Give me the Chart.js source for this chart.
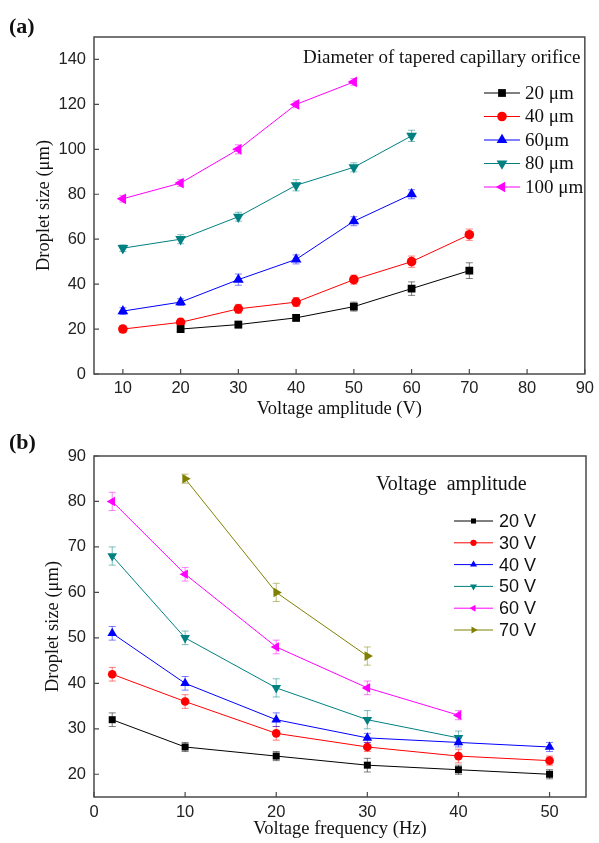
<!DOCTYPE html>
<html>
<head>
<meta charset="utf-8">
<script src="https://cdn.jsdelivr.net/npm/chart.js@4.4.0/dist/chart.umd.min.js"></script>
<style>
  body { margin: 0; background: #fff; width: 599px; height: 843px; position: relative; overflow: hidden; }
  .panel { position: absolute; left: 0; width: 599px; }
  #wrapA { top: 0; height: 420px; }
  #wrapB { top: 420px; height: 423px; }
  .tag { position: absolute; left: 9px; font: bold 22px "Liberation Serif", serif; color: #111; }
</style>
</head>
<body>
<div class="panel" id="wrapA"><canvas id="chartA" width="599" height="420"></canvas></div>
<div class="panel" id="wrapB"><canvas id="chartB" width="599" height="423"></canvas></div>
<div class="tag" style="top:13px">(a)</div>
<div class="tag" style="top:429px">(b)</div>
<script>
// ---- panel (a): droplet size vs voltage amplitude
const ampX = [10, 20, 30, 40, 50, 60, 70];
const ampNames = ["20 μm", "40 μm", "60μm", "80 μm", "100 μm"];
const sizeA20 = [null, 20, 22, 25, 30, 38, 46];
const sizeA40 = [20, 23, 29, 32, 42, 50, 62];
const sizeA60 = [28, 32, 42, 51, 68, 80, null];
const sizeA80 = [56, 60, 70, 84, 92, 106, null];
const sizeA100 = [78, 85, 100, 120, 130, null, null];
const errA20 = [0, 1.5, 1.5, 1.5, 2, 3, 3.5];
const errA40 = [1.5, 1.5, 2, 2, 2, 2.5, 2.5];
const errA60 = [1.5, 1.5, 2.5, 2, 2, 2, 0];
const errA80 = [1.5, 2, 2, 2.5, 2, 2.5, 0];
const errA100 = [1.5, 1.5, 2, 1.5, 1.5, 0, 0];
const xTicksA = [10, 20, 30, 40, 50, 60, 70, 80, 90];
const yTicksA = [0, 20, 40, 60, 80, 100, 120, 140];

// ---- panel (b): droplet size vs voltage frequency
const freqX = [2, 10, 20, 30, 40, 50];
const freqNames = ["20 V", "30 V", "40 V", "50 V", "60 V", "70 V"];
const sizeB20 = [32, 26, 24, 22, 21, 20];
const sizeB30 = [42, 36, 29, 26, 24, 23];
const sizeB40 = [51, 40, 32, 28, 27, 26];
const sizeB50 = [68, 50, 39, 32, 28, null];
const sizeB60 = [80, 64, 48, 39, 33, null];
const sizeB70 = [null, 85, 60, 46, null, null];
const errB20 = [1.5, 1, 1, 1.5, 1, 1];
const errB30 = [1.5, 1.5, 1.5, 1, 1.5, 1];
const errB40 = [1.5, 1.5, 1.5, 1, 1, 1];
const errB50 = [2, 1.5, 2, 2, 1.5, 0];
const errB60 = [2, 1.5, 1.5, 1.5, 1, 0];
const errB70 = [0, 1, 2, 2, 0, 0];
const xTicksB = [0, 10, 20, 30, 40, 50];
const yTicksB = [20, 30, 40, 50, 60, 70, 80, 90];

const colors = ["#000000", "#ff0000", "#0000ff", "#008080", "#ff00ff", "#808000"];
const styles = [
  { pointStyle: "rect", rotation: 0, radius: 5.5 },
  { pointStyle: "circle", rotation: 0, radius: 4.8 },
  { pointStyle: "triangle", rotation: 0, radius: 6.2 },
  { pointStyle: "triangle", rotation: 180, radius: 6.2 },
  { pointStyle: "triangle", rotation: -90, radius: 6.2 },
  { pointStyle: "triangle", rotation: 90, radius: 6.2 },
];

function makeSet(i, label, xs, ys, errs, scale, legScale) {
  const pts = [], e = [];
  xs.forEach((x, k) => {
    if (ys[k] !== null) { pts.push({ x: x, y: ys[k] }); e.push(errs[k]); }
  });
  const s = styles[i];
  return {
    label: label,
    data: pts,
    errors: e,
    showLine: true,
    borderColor: colors[i],
    backgroundColor: colors[i],
    borderWidth: 1,
    pointStyle: s.pointStyle,
    pointRotation: s.rotation,
    pointRadius: s.radius * scale,
    pointBorderWidth: 0,
    legendRadius: s.radius * legScale,
  };
}

function alpha(hex, a) {
  const n = parseInt(hex.slice(1), 16);
  return `rgba(${(n >> 16) & 255},${(n >> 8) & 255},${n & 255},${a})`;
}

const boxPlugin = {
  id: "box",
  beforeDatasetsDraw(chart) {
    const ctx = chart.ctx;
    const ys = chart.scales.y;
    ctx.save();
    ctx.lineWidth = 1;
    chart.data.datasets.forEach((ds, i) => {
      const meta = chart.getDatasetMeta(i);
      ctx.strokeStyle = alpha(ds.borderColor, 0.5);
      meta.data.forEach((pt, k) => {
        const e = ds.errors[k];
        if (!e) return;
        const v = ds.data[k].y;
        const y1 = ys.getPixelForValue(v + e), y2 = ys.getPixelForValue(v - e);
        ctx.beginPath();
        ctx.moveTo(pt.x, y1); ctx.lineTo(pt.x, y2);
        ctx.moveTo(pt.x - 3.5, y1); ctx.lineTo(pt.x + 3.5, y1);
        ctx.moveTo(pt.x - 3.5, y2); ctx.lineTo(pt.x + 3.5, y2);
        ctx.stroke();
      });
    });
    ctx.restore();
  },
  afterDraw(chart) {
    const { ctx, chartArea: a, scales } = chart;
    ctx.save();
    ctx.strokeStyle = "#4a4a4a";
    ctx.lineWidth = 1.5;
    ctx.strokeRect(a.left, a.top, a.right - a.left, a.bottom - a.top);
    ctx.lineWidth = 1.2;
    ctx.beginPath();
    scales.x.ticks.forEach((t) => {
      const px = scales.x.getPixelForValue(t.value);
      ctx.moveTo(px, a.bottom); ctx.lineTo(px, a.bottom - 5);
    });
    scales.y.ticks.forEach((t) => {
      const py = scales.y.getPixelForValue(t.value);
      ctx.moveTo(a.left, py); ctx.lineTo(a.left + 5, py);
    });
    ctx.stroke();

    // legend
    const lg = chart.options.plugins.box;
    ctx.fillStyle = "#111";
    ctx.textBaseline = "middle";
    ctx.textAlign = "left";
    ctx.font = lg.titleFont;
    ctx.fillText(lg.title, lg.titleX, lg.titleY);
    ctx.font = lg.itemFont;
    chart.data.datasets.forEach((ds, i) => {
      const y = lg.rowY + i * lg.rowStep;
      ctx.strokeStyle = ds.borderColor;
      ctx.lineWidth = 1;
      ctx.beginPath();
      ctx.moveTo(lg.lineX1, y); ctx.lineTo(lg.lineX2, y);
      ctx.stroke();
      ctx.fillStyle = ds.backgroundColor;
      Chart.helpers.drawPoint(ctx, {
        pointStyle: ds.pointStyle, rotation: ds.pointRotation,
        radius: ds.legendRadius, borderWidth: 0,
      }, (lg.lineX1 + lg.lineX2) / 2, y);
      ctx.fillStyle = "#111";
      ctx.fillText(ds.label, lg.textX, y + 1);
    });
    ctx.restore();
  },
};

function axis(min, max, tickArr, opts) {
  return {
    type: "linear",
    min: min,
    max: max,
    grid: { display: false, drawTicks: false, tickLength: 0 },
    border: { display: false },
    afterBuildTicks: (s) => { s.ticks = tickArr.map((v) => ({ value: v })); },
    afterFit: opts.fit,
    ticks: {
      padding: opts.pad,
      color: "#222",
      font: { family: "Liberation Sans, Arial", size: 16.5 },
    },
    title: {
      display: true,
      text: opts.title,
      color: "#111",
      font: { family: "Liberation Serif, Times New Roman", size: 18.5 },
      padding: opts.titlePad,
    },
  };
}

function makeChart(id, datasets, cfg) {
  return new Chart(document.getElementById(id), {
    type: "scatter",
    data: { datasets: datasets },
    options: {
      responsive: false,
      animation: false,
      layout: { padding: cfg.padding },
      plugins: { legend: { display: false }, tooltip: { enabled: false }, box: cfg.legend },
      scales: { x: cfg.x, y: cfg.y },
    },
    plugins: [boxPlugin],
  });
}

const setsA = [sizeA20, sizeA40, sizeA60, sizeA80, sizeA100].map((ys, i) =>
  makeSet(i, ampNames[i], ampX, ys, [errA20, errA40, errA60, errA80, errA100][i], 1, 1));
makeChart("chartA", setsA, {
  padding: { top: 37, right: 11, left: 0, bottom: 0 },
  x: axis(5, 90, xTicksA, {
    fit: (s) => { s.height = 46; }, pad: 5,
    title: "Voltage amplitude (V)", titlePad: { top: 0, bottom: 0 },
  }),
  y: axis(0, 150, yTicksA, {
    fit: (s) => { s.width = 94; }, pad: 8,
    title: "Droplet size (μm)", titlePad: { top: 33, bottom: 0 },
  }),
  legend: {
    title: "Diameter of tapered capillary orifice",
    titleFont: '19px "Liberation Serif"', titleX: 303, titleY: 58,
    itemFont: '19px "Liberation Serif"',
    lineX1: 484, lineX2: 520, textX: 525, rowY: 93, rowStep: 23.5,
  },
});

const setsB = [sizeB20, sizeB30, sizeB40, sizeB50, sizeB60, sizeB70].map((ys, i) =>
  makeSet(i, freqNames[i], freqX, ys, [errB20, errB30, errB40, errB50, errB60, errB70][i], 0.9, 0.65));
makeChart("chartB", setsB, {
  padding: { top: 36, right: 13, left: 0, bottom: 0 },
  x: axis(0, 54, xTicksB, {
    fit: (s) => { s.height = 46; }, pad: 6,
    title: "Voltage frequency (Hz)", titlePad: { top: 0, bottom: 3 },
  }),
  y: axis(15, 90, yTicksB, {
    fit: (s) => { s.width = 94; }, pad: 8,
    title: "Droplet size (μm)", titlePad: { top: 42, bottom: 0 },
  }),
  legend: {
    title: "Voltage  amplitude",
    titleFont: '20px "Liberation Serif"', titleX: 376, titleY: 65,
    itemFont: '18px "Liberation Sans"',
    lineX1: 454, lineX2: 493, textX: 499, rowY: 101, rowStep: 21.8,
  },
});
</script>
</body>
</html>
